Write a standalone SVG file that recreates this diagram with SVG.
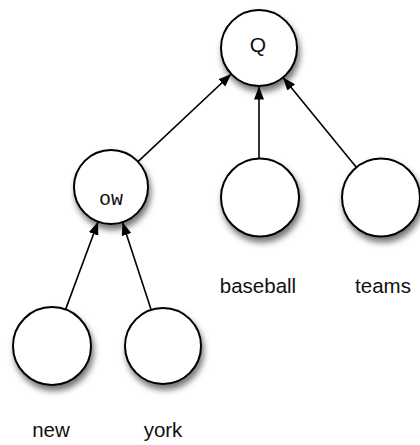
<svg xmlns="http://www.w3.org/2000/svg" width="420" height="445" viewBox="0 0 420 445">
<style>
.node{fill:#fff;stroke:#000;stroke-width:2;filter:url(#sh)}
.edge{stroke:#000;stroke-width:1.6;fill:none;marker-end:url(#arr)}
.lbl{font-family:"Liberation Sans",Arial,sans-serif;font-size:20.5px;fill:#111;text-anchor:middle}
.in{font-family:"Liberation Mono","Courier New",monospace;font-size:20px;fill:#111;text-anchor:middle}
.q{font-family:"Liberation Sans",Arial,sans-serif;font-size:21px;fill:#111;text-anchor:middle}
</style>
<defs>
<filter id="sh" x="-30%" y="-30%" width="170%" height="170%">
<feDropShadow dx="2" dy="5" stdDeviation="3" flood-color="#000" flood-opacity="0.55"/>
</filter>
<marker id="arr" markerUnits="userSpaceOnUse" markerWidth="14" markerHeight="12" refX="13" refY="5" orient="auto">
<path d="M0,0 L13,5 L0,10 Z" fill="#000"/>
</marker>
</defs>
<rect width="420" height="445" fill="#fff"/>
<g id="connectors">
<line class="edge" x1="138" y1="161.7" x2="231.3" y2="74"/>
<line class="edge" x1="259" y1="158.5" x2="259" y2="86.5"/>
<line class="edge" x1="356.3" y1="167.3" x2="283" y2="77.4"/>
<line class="edge" x1="65.6" y1="309.4" x2="98.1" y2="221.7"/>
<line class="edge" x1="150.9" y1="309" x2="122.5" y2="222.2"/>
</g>
<g id="Q"><circle class="node" cx="259" cy="48" r="38"/><text class="q" x="258" y="52">Q</text></g>
<g id="ow"><circle class="node" cx="111" cy="187" r="37"/><text class="in" x="111" y="205">ow</text></g>
<g id="baseball"><circle class="node" cx="260" cy="197.5" r="39"/><text class="lbl" x="258" y="293">baseball</text></g>
<g id="teams"><circle class="node" cx="381" cy="197.5" r="39"/><text class="lbl" x="383" y="293">teams</text></g>
<g id="new"><circle class="node" cx="52" cy="346" r="39"/><text class="lbl" x="51" y="437">new</text></g>
<g id="york"><circle class="node" cx="163" cy="346" r="38"/><text class="lbl" x="163" y="437">york</text></g>
</svg>
